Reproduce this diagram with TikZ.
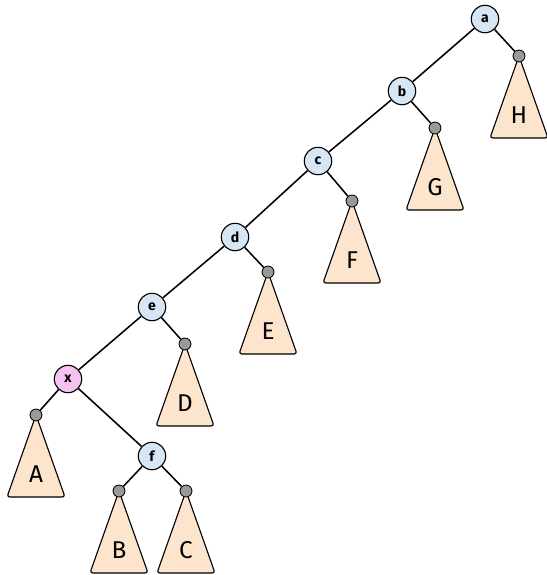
\documentclass[tikz,border=0pt]{standalone}
\usepackage{fontspec}
\setmainfont{Fira Sans}
\usetikzlibrary{calc,backgrounds}
\definecolor{vtx}{HTML}{D6E6F5}
\definecolor{hot}{HTML}{F5C2F2}
\definecolor{sub}{HTML}{FDE5CD}
\definecolor{stub}{HTML}{999999}
\tikzset{
  vert/.style={circle, draw=black, fill=vtx, line width=0.8pt, minimum size=19.5pt, inner sep=0pt, font=\normalsize\bfseries},
  vertx/.style={vert, fill=hot},
  leaf/.style={circle, draw=black, fill=stub, line width=0.6pt, minimum size=8.5pt, inner sep=0pt},
  tri/.style={draw=black, fill=sub, line width=0.8pt, rounded corners=2pt, line join=round},
  lab/.style={font=\LARGE},
  edge/.style={draw=black, line width=1.1pt},
}
\begin{document}
\begin{tikzpicture}[x=0.025cm,y=-0.025cm]
  \useasboundingbox (0,0) rectangle (547,575);
  % inner nodes
  \node[vert]  (a) at (485,19)  {a};
  \node[vert]  (b) at (402,91)  {b};
  \node[vert]  (c) at (318,161) {c};
  \node[vert]  (d) at (235,237) {d};
  \node[vert]  (e) at (152,307) {e};
  \node[vertx] (x) at (68,379)  {x};
  \node[vert]  (f) at (152,456) {f};
  % subtree roots
  \node[leaf] (lH) at (519,56)  {};
  \node[leaf] (lG) at (435,128) {};
  \node[leaf] (lF) at (352,201) {};
  \node[leaf] (lE) at (268,272) {};
  \node[leaf] (lD) at (185,344) {};
  \node[leaf] (lA) at (36,415)  {};
  \node[leaf] (lB) at (119,491) {};
  \node[leaf] (lC) at (186,491) {};
  % subtrees
  \begin{scope}[on background layer]
    \foreach \n in {A,B,C,D,E,F,G,H}{
      \draw[tri] (l\n.center) -- ++(-29,82) -- ++(58,0) -- cycle;
      \node[lab] (t\n) at ($(l\n.center)+(0,59)$) {\n};
    }
  \end{scope}
  % edges
  \foreach \u/\v in {a/b,a/lH,b/c,b/lG,c/d,c/lF,d/e,d/lE,e/x,e/lD,x/lA,x/f,f/lB,f/lC}
    \draw[edge] (\u) -- (\v);
\end{tikzpicture}
\end{document}
